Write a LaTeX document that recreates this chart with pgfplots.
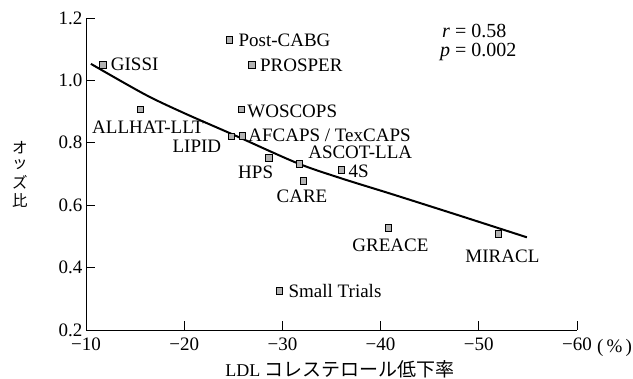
\documentclass[border=0pt]{standalone}
\usepackage{pgfplots}
\pgfplotsset{compat=1.18}
\usepackage{fontspec}
\setmainfont{Liberation Serif}
\newfontfamily\jp{Noto Sans CJK JP}
\begin{document}
\begin{tikzpicture}[x=1pt,y=1pt]
\useasboundingbox (0,0) rectangle (633,379);
\begin{axis}[
  at={(86pt,49pt)}, anchor=south west,
  scale only axis, width=491pt, height=312pt,
  xmin=10, xmax=60, ymin=0.2, ymax=1.2,
  axis lines*=left,
  axis line style={line width=0.9pt},
  tick align=inside,
  major tick length=9pt,
  tick style={line width=0.9pt, black},
  xtick={10,20,30,40,50,60},
  xticklabels={−10,−20,−30,−40,−50,−60},
  ytick={0.2,0.4,0.6,0.8,1.0,1.2},
  yticklabel style={/pgf/number format/.cd, fixed, fixed zerofill, precision=1, assume math mode=true},
  ticklabel style={font=\fontsize{19}{19}\selectfont},
  xticklabel style={yshift=-4pt},
  clip=false,
]
\addplot[smooth, line width=2pt, black] coordinates {
(10.5,1.053) (16,0.955) (20,0.895) (25,0.826) (31.5,0.735) (36,0.686) (41,0.637) (48,0.567) (54.9,0.497)
};
\addplot[only marks, mark=square*, mark size=3.2pt, mark options={fill=gray!60, draw=black, line width=0.6pt}] coordinates {
(11.7,1.05) (15.5,0.907) (24.8,0.82) (25.9,0.822) (25.8,0.907) (24.6,1.13) (26.9,1.05)
(28.6,0.752) (31.7,0.733) (32.1,0.678) (36.0,0.713) (29.7,0.325) (40.8,0.527) (52.0,0.508)
};
\begin{scope}[every node/.style={inner sep=0pt, font=\fontsize{19}{19}\selectfont}]
\node[anchor=west, xshift=8pt] at (axis cs:11.7,1.05) {GISSI};
\node[anchor=west, xshift=9pt] at (axis cs:24.6,1.13) {Post-CABG};
\node[anchor=west, xshift=8pt, yshift=-1pt] at (axis cs:26.9,1.05) {PROSPER};
\node[anchor=west, xshift=6pt, yshift=-2pt] at (axis cs:25.8,0.907) {WOSCOPS};
\node[anchor=west, xshift=6pt, yshift=1pt] at (axis cs:25.9,0.822) {AFCAPS / TexCAPS};
\node[anchor=west, xshift=9pt, yshift=11pt] at (axis cs:31.7,0.733) {ASCOT-LLA};
\node[anchor=west, xshift=7pt, yshift=-1pt] at (axis cs:36.0,0.713) {4S};
\node[xshift=-13pt, yshift=-15pt] at (axis cs:28.6,0.752) {HPS};
\node[xshift=-1pt, yshift=-15pt] at (axis cs:32.1,0.678) {CARE};
\node[anchor=east, xshift=-10pt, yshift=-10pt] at (axis cs:24.8,0.82) {LIPID};
\node[xshift=8pt, yshift=-18pt] at (axis cs:15.5,0.907) {ALLHAT-LLT};
\node[xshift=2pt, yshift=-17pt] at (axis cs:40.8,0.527) {GREACE};
\node[xshift=4pt, yshift=-22pt] at (axis cs:52.0,0.508) {MIRACL};
\node[anchor=west, xshift=9pt] at (axis cs:29.7,0.325) {Small Trials};
\end{scope}
\end{axis}
\node[anchor=west, font=\fontsize{20}{20}\selectfont, inner sep=0pt] at (442,348) {\textit{r} = 0.58};
\node[anchor=west, font=\fontsize{20}{20}\selectfont, inner sep=0pt] at (440,327) {\textit{p} = 0.002};
\node[anchor=west, inner sep=0pt, font=\fontsize{19}{19}\selectfont] at (597,31) {(\,\%\,)};
\begin{scope}[every node/.style={inner sep=0pt, font=\jp\fontsize{15.5}{15.5}\selectfont}]
\node at (20,231) {オ};
\node at (20,214) {ッ};
\node at (20,197) {ズ};
\node at (20,179) {比};
\end{scope}
\node[inner sep=0pt] at (340,10) {\fontsize{18}{18}\selectfont LDL {\jp\fontsize{19}{19}\selectfont コレステロール低下率}};
\end{tikzpicture}
\end{document}
